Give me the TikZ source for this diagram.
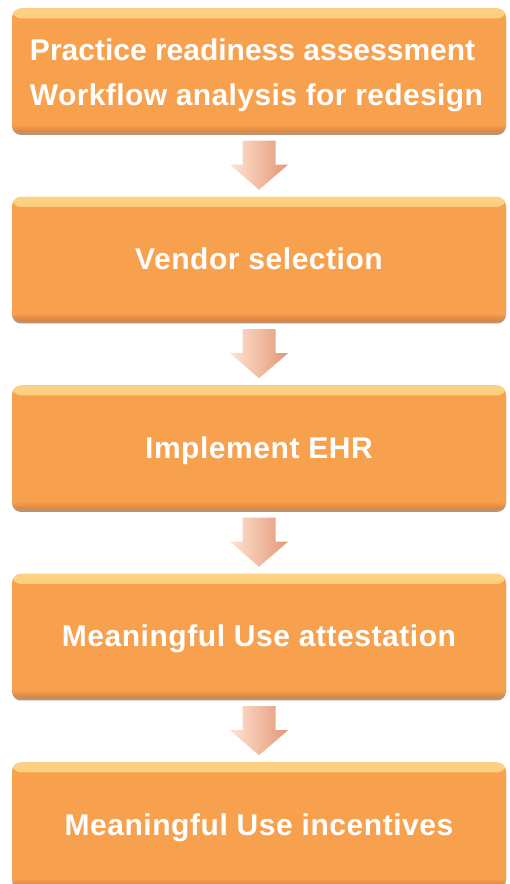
\documentclass[tikz,border=0pt]{standalone}
\usepackage{fontspec}
\setmainfont{Liberation Sans}
\usepackage{tikz}
\usetikzlibrary{calc,shadows}

\definecolor{boxorange}{RGB}{247,160,78}
\definecolor{boxlight}{RGB}{252,210,130}
\definecolor{boxdark}{RGB}{218,128,60}
\definecolor{arrowlight}{RGB}{255,228,210}
\definecolor{arrowdark}{RGB}{226,150,118}

\newcommand{\stepfont}{\fontsize{30}{45}\selectfont\bfseries}

\tikzset{
  stepbox/.style={rectangle, rounded corners=9pt, minimum width=494pt,
    minimum height=124pt, fill=boxorange, text=white,
    font=\stepfont\addfontfeature{LetterSpace=1.8},
    align=center, inner sep=0pt, text height=21.5pt, text depth=0pt,
    drop shadow={shadow xshift=0pt, shadow yshift=-2.5pt, opacity=0.6, fill=boxdark!60!black},
    path picture={
      \shade[top color=boxlight, bottom color=boxorange]
        (path picture bounding box.north west) rectangle
        ([yshift=-10pt]path picture bounding box.north east);
      \shade[top color=boxorange, bottom color=boxdark]
        ([yshift=8pt]path picture bounding box.south west) rectangle
        (path picture bounding box.south east);
    }},
  firstbox/.style={stepbox, font=\stepfont, align=left},
  flowarrow/.style={left color=arrowlight, right color=arrowdark}
}

\begin{document}
\begin{tikzpicture}[x=1pt, y=1pt]
    \useasboundingbox (0,0) rectangle (510,884);
    % Steps of the adoption path
    \node[firstbox] (b1) at (259,813.5) {};
    \node[anchor=west, font=\stepfont, text=white, align=left, inner sep=0pt]
        (t1) at ([xshift=18pt, yshift=-5pt]b1.west) {Practice readiness assessment\\
        {\addfontfeature{LetterSpace=1.3}Workflow analysis for redesign}};
    \node[stepbox] (b2) at (259,625) {Vendor selection};
    \node[stepbox] (b3) at (259,436.5) {Implement EHR};
    \node[stepbox] (b4) at (259,248) {Meaningful Use attestation};
    \node[stepbox] (b5) at (259,59.5) {Meaningful Use incentives};
    % Block arrows between the steps
    \foreach \a/\b in {b1/b2, b2/b3, b3/b4, b4/b5}
        \shade[flowarrow] ($(\a.south)+(-16.5,-8)$) -- ($(\a.south)+(16.5,-8)$)
            -- ($(\a.south)+(16.5,-32)$) -- ($(\a.south)+(29,-32)$)
            -- ($(\b.north)+(0,7)$) -- ($(\a.south)+(-29,-32)$)
            -- ($(\a.south)+(-16.5,-32)$) -- cycle;
\end{tikzpicture}
\end{document}
